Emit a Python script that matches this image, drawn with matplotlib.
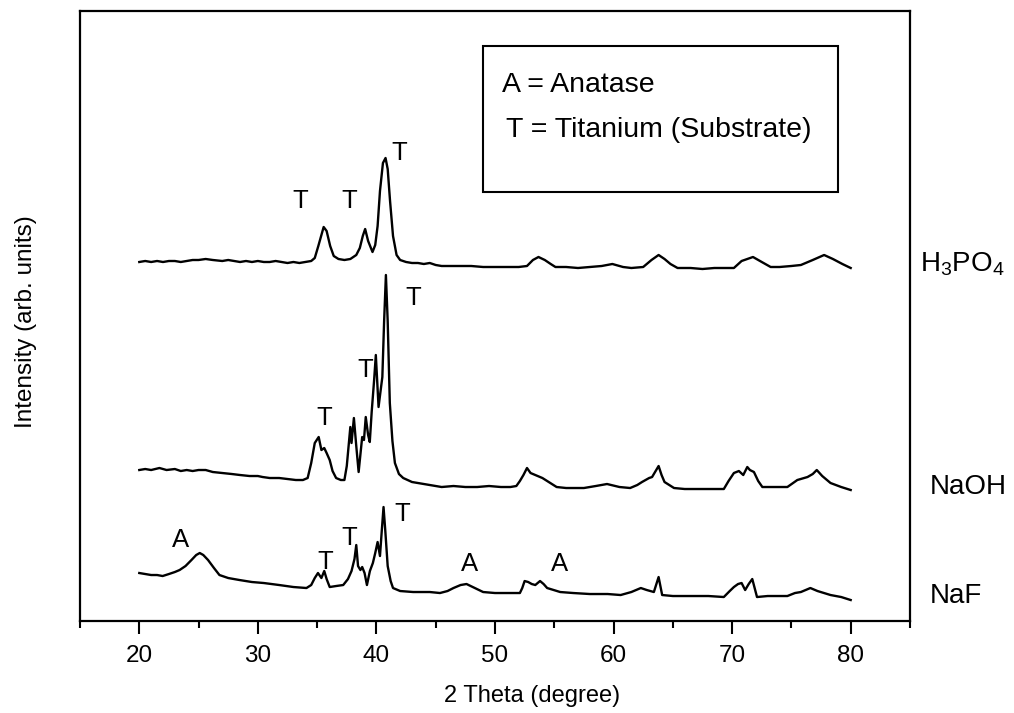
import matplotlib.pyplot as plt
import matplotlib.transforms as mtransforms
from matplotlib.patches import Rectangle
from matplotlib.ticker import MultipleLocator

plt.rcParams['font.family'] = ['Liberation Sans', 'DejaVu Sans']
plt.rcParams['mathtext.default'] = 'regular'

# XRD patterns: 2 theta [deg], intensity [arb. units, stacked]
h3po4_2theta = [20.0, 20.5, 21.0, 21.5, 22.0, 22.5, 23.0, 23.5, 24.0, 24.5, 25.0, 25.6, 26.2, 27.0, 27.5,
                28.0, 28.5, 29.0, 29.5, 30.0, 30.5, 31.0, 31.5, 32.0, 32.5, 33.0, 33.5, 34.0, 34.5, 34.8,
                35.1, 35.55, 35.8, 36.1, 36.4, 36.8, 37.3, 37.8, 38.3, 38.6, 38.85, 39.05, 39.3, 39.67, 39.9,
                40.1, 40.3, 40.55, 40.77, 40.95, 41.15, 41.4, 41.7, 42.0, 42.5, 43.0, 43.5, 44.0, 44.5, 45.0,
                45.5, 46.0, 47.0, 48.0, 49.0, 50.0, 51.0, 52.0, 52.7, 53.2, 53.67, 54.2, 54.7, 55.1, 56.0,
                57.0, 58.0, 59.0, 59.9, 60.8, 61.5, 62.5, 63.2, 63.8, 64.3, 64.8, 65.4, 66.5, 67.5, 68.5,
                69.5, 70.15, 70.8, 71.76, 72.5, 73.25, 74.0, 75.0, 75.8, 76.8, 77.76, 78.5, 79.3, 80.0]
h3po4_int = [359, 360, 359, 360, 359, 360, 360, 359, 360, 361, 361, 362, 361, 360, 361,
             360, 359, 360, 359, 360, 359, 359, 360, 359, 358, 359, 358, 359, 360, 363,
             375, 394, 390, 375, 365, 362, 361, 362, 366, 373, 385, 392, 380, 369, 376,
             395, 430, 458, 463, 452, 420, 385, 366, 361, 359, 358, 358, 357, 358, 356,
             355, 355, 355, 355, 354, 354, 354, 354, 355, 361, 364, 361, 357, 354, 354,
             353, 354, 355, 357, 354, 353, 354, 361, 366, 362, 357, 353, 353, 352, 353,
             353, 353, 360, 364, 359, 354, 354, 355, 356, 361, 366, 362, 357, 353]

naoh_2theta = [20.0, 20.5, 21.0, 21.7, 22.3, 23.0, 23.5, 24.0, 24.5, 25.0, 25.6, 26.2, 27.0, 27.8, 28.5,
               29.3, 30.0, 30.4, 31.0, 31.8, 32.5, 33.2, 33.8, 34.2, 34.5, 34.8, 35.13, 35.36, 35.6, 35.8,
               36.06, 36.3, 36.6, 37.0, 37.3, 37.5, 37.8, 37.9, 38.1, 38.3, 38.5, 38.8, 38.95, 39.1, 39.3,
               39.44, 39.6, 39.8, 39.95, 40.18, 40.35, 40.5, 40.65, 40.8, 40.95, 41.13, 41.35, 41.56, 41.9,
               42.26, 43.0, 44.0, 45.0, 45.5, 46.5, 47.5, 48.5, 49.5, 50.5, 51.3, 51.8, 52.1, 52.4, 52.7,
               53.0, 53.4, 54.0, 54.4, 55.2, 56.0, 57.5, 58.5, 59.45, 60.5, 61.4, 62.0, 62.4, 63.0, 63.25,
               63.8, 64.05, 64.3, 65.1, 66.0, 67.0, 68.0, 69.3, 69.7, 70.15, 70.57, 70.94, 71.28, 71.5,
               71.84, 72.2, 72.55, 73.5, 74.66, 75.5, 76.36, 76.8, 77.14, 77.6, 78.3, 79.2, 80.0]
naoh_int = [151, 152, 151, 153, 151, 152, 150, 151, 150, 151, 151, 149, 148, 147, 146,
            145, 145, 144, 143, 143, 142, 141, 141, 143, 158, 178, 184, 171, 173, 168,
            161, 150, 143, 141, 141, 155, 194, 178, 203, 175, 149, 184, 181, 204, 186,
            179, 209, 240, 266, 214, 230, 244, 300, 346, 300, 218, 180, 158, 147,
            143, 139, 137, 135, 134, 135, 134, 134, 135, 134, 134, 135, 140, 146, 153,
            148, 146, 143, 140, 134, 133, 133, 135, 137, 134, 133, 136, 139, 143, 144,
            155, 146, 139, 133, 132, 132, 132, 132, 140, 148, 150, 146, 154, 151,
            149, 140, 134, 134, 134, 141, 144, 147, 151, 145, 138, 134, 131]

naf_2theta = [20.0, 20.5, 21.0, 21.5, 21.97, 22.5, 23.0, 23.4, 23.9, 24.4, 24.8, 25.1, 25.4, 25.8, 26.3,
              26.76, 27.5, 28.45, 29.5, 30.5, 31.8, 33.0, 34.1, 34.5, 34.8, 35.07, 35.36, 35.6, 35.8, 36.06,
              36.6, 37.2, 37.6, 37.9, 38.15, 38.3, 38.45, 38.65, 38.8, 39.0, 39.2, 39.45, 39.7, 39.9, 40.1,
              40.3, 40.45, 40.6, 40.75, 40.95, 41.2, 41.4, 42.0, 43.1, 44.5, 45.36, 46.0, 46.5, 47.1, 47.6,
              48.3, 49.0, 50.0, 51.0, 52.1, 52.3, 52.5, 52.8, 53.1, 53.4, 53.8, 54.1, 54.4, 55.5, 56.6,
              58.0, 59.5, 60.6, 61.5, 62.3, 62.8, 63.4, 63.8, 64.1, 65.0, 66.5, 68.0, 69.3, 69.8, 70.15,
              70.5, 70.8, 71.1, 71.4, 71.7, 72.1, 73.0, 74.66, 75.3, 75.8, 76.2, 76.6, 77.2, 78.3, 79.2, 80.0]
naf_int = [48, 47, 46, 46, 45, 47, 49, 51, 55, 61, 66, 68, 66, 61, 53,
           46, 43, 41, 39, 38, 36, 34, 33, 36, 43, 48, 43, 50, 42, 34,
           35, 36, 42, 50, 62, 76, 55, 51, 54, 48, 36, 50, 58, 68, 79,
           65, 90, 114, 90, 55, 40, 33, 30, 29, 29, 28, 30, 33, 36, 37,
           33, 29, 28, 28, 28, 33, 40, 39, 37, 36, 40, 37, 33, 29, 28,
           27, 27, 26, 29, 33, 31, 29, 44, 26, 25, 25, 25, 24, 30, 34,
           37, 38, 31, 37, 42, 24, 25, 25, 28, 29, 31, 33, 30, 26, 24, 21]

# peak labels: (text, 2 theta, intensity)
peak_labels = [("T", 33.6, 420), ("T", 37.67, 420), ("T", 41.9, 468),
               ("T", 35.64, 203), ("T", 39.02, 251), ("T", 43.08, 323),
               ("A", 23.47, 81), ("T", 35.72, 59), ("T", 37.67, 83), ("T", 42.15, 107),
               ("A", 47.81, 57), ("A", 55.42, 57)]

sample_names = [r'H$_3$PO$_4$', 'NaOH', 'NaF']
sample_label_pos = [(1.012, 357), (1.024, 134), (1.024, 25)]

legend_lines = ["A = Anatase", "T = Titanium (Substrate)"]

fig = plt.figure(figsize=(10.14, 7.13), dpi=100)
ax = fig.add_axes([0.0789, 0.129, 0.8185, 0.8556])

for xs, ys in [(h3po4_2theta, h3po4_int), (naoh_2theta, naoh_int), (naf_2theta, naf_int)]:
    ax.plot(xs, ys, color='black', linewidth=1.7)

for txt, x, y in peak_labels:
    ax.text(x, y, txt, fontsize=18.5, ha='center', va='center')

# sample names sit outside the right spine
trans = mtransforms.blended_transform_factory(ax.transAxes, ax.transData)
for name, (xa, yd) in zip(sample_names, sample_label_pos):
    ax.text(xa, yd, name, transform=trans, fontsize=20, ha='left', va='center', clip_on=False)

# framed key in the upper right
ax.add_patch(Rectangle((0.485, 0.703), 0.4277, 0.2397, transform=ax.transAxes,
                       fill=False, edgecolor='black', linewidth=1.5))
ax.text(0.509, 0.879, legend_lines[0], transform=ax.transAxes, fontsize=20.5, ha='left', va='center')
ax.text(0.513, 0.805, legend_lines[1], transform=ax.transAxes, fontsize=20.5, ha='left', va='center')

ax.set_xlim(15, 85)
ax.set_ylim(0, 610)
ax.xaxis.set_major_locator(MultipleLocator(10))
ax.xaxis.set_minor_locator(MultipleLocator(5))
ax.set_yticks([])
ax.tick_params(axis='x', which='major', direction='out', length=9, width=1.5, pad=8, labelsize=17.5)
ax.tick_params(axis='x', which='minor', direction='out', length=5, width=1.5)
for sp in ax.spines.values():
    sp.set_linewidth(1.6)

ax.set_xlabel('2 Theta (degree)', fontsize=17)
ax.xaxis.set_label_coords(0.545, -0.105)
ax.set_ylabel('Intensity (arb. units)', fontsize=17.5)
ax.yaxis.set_label_coords(-0.052, 0.49)

fig.savefig('out.png', dpi=100)
